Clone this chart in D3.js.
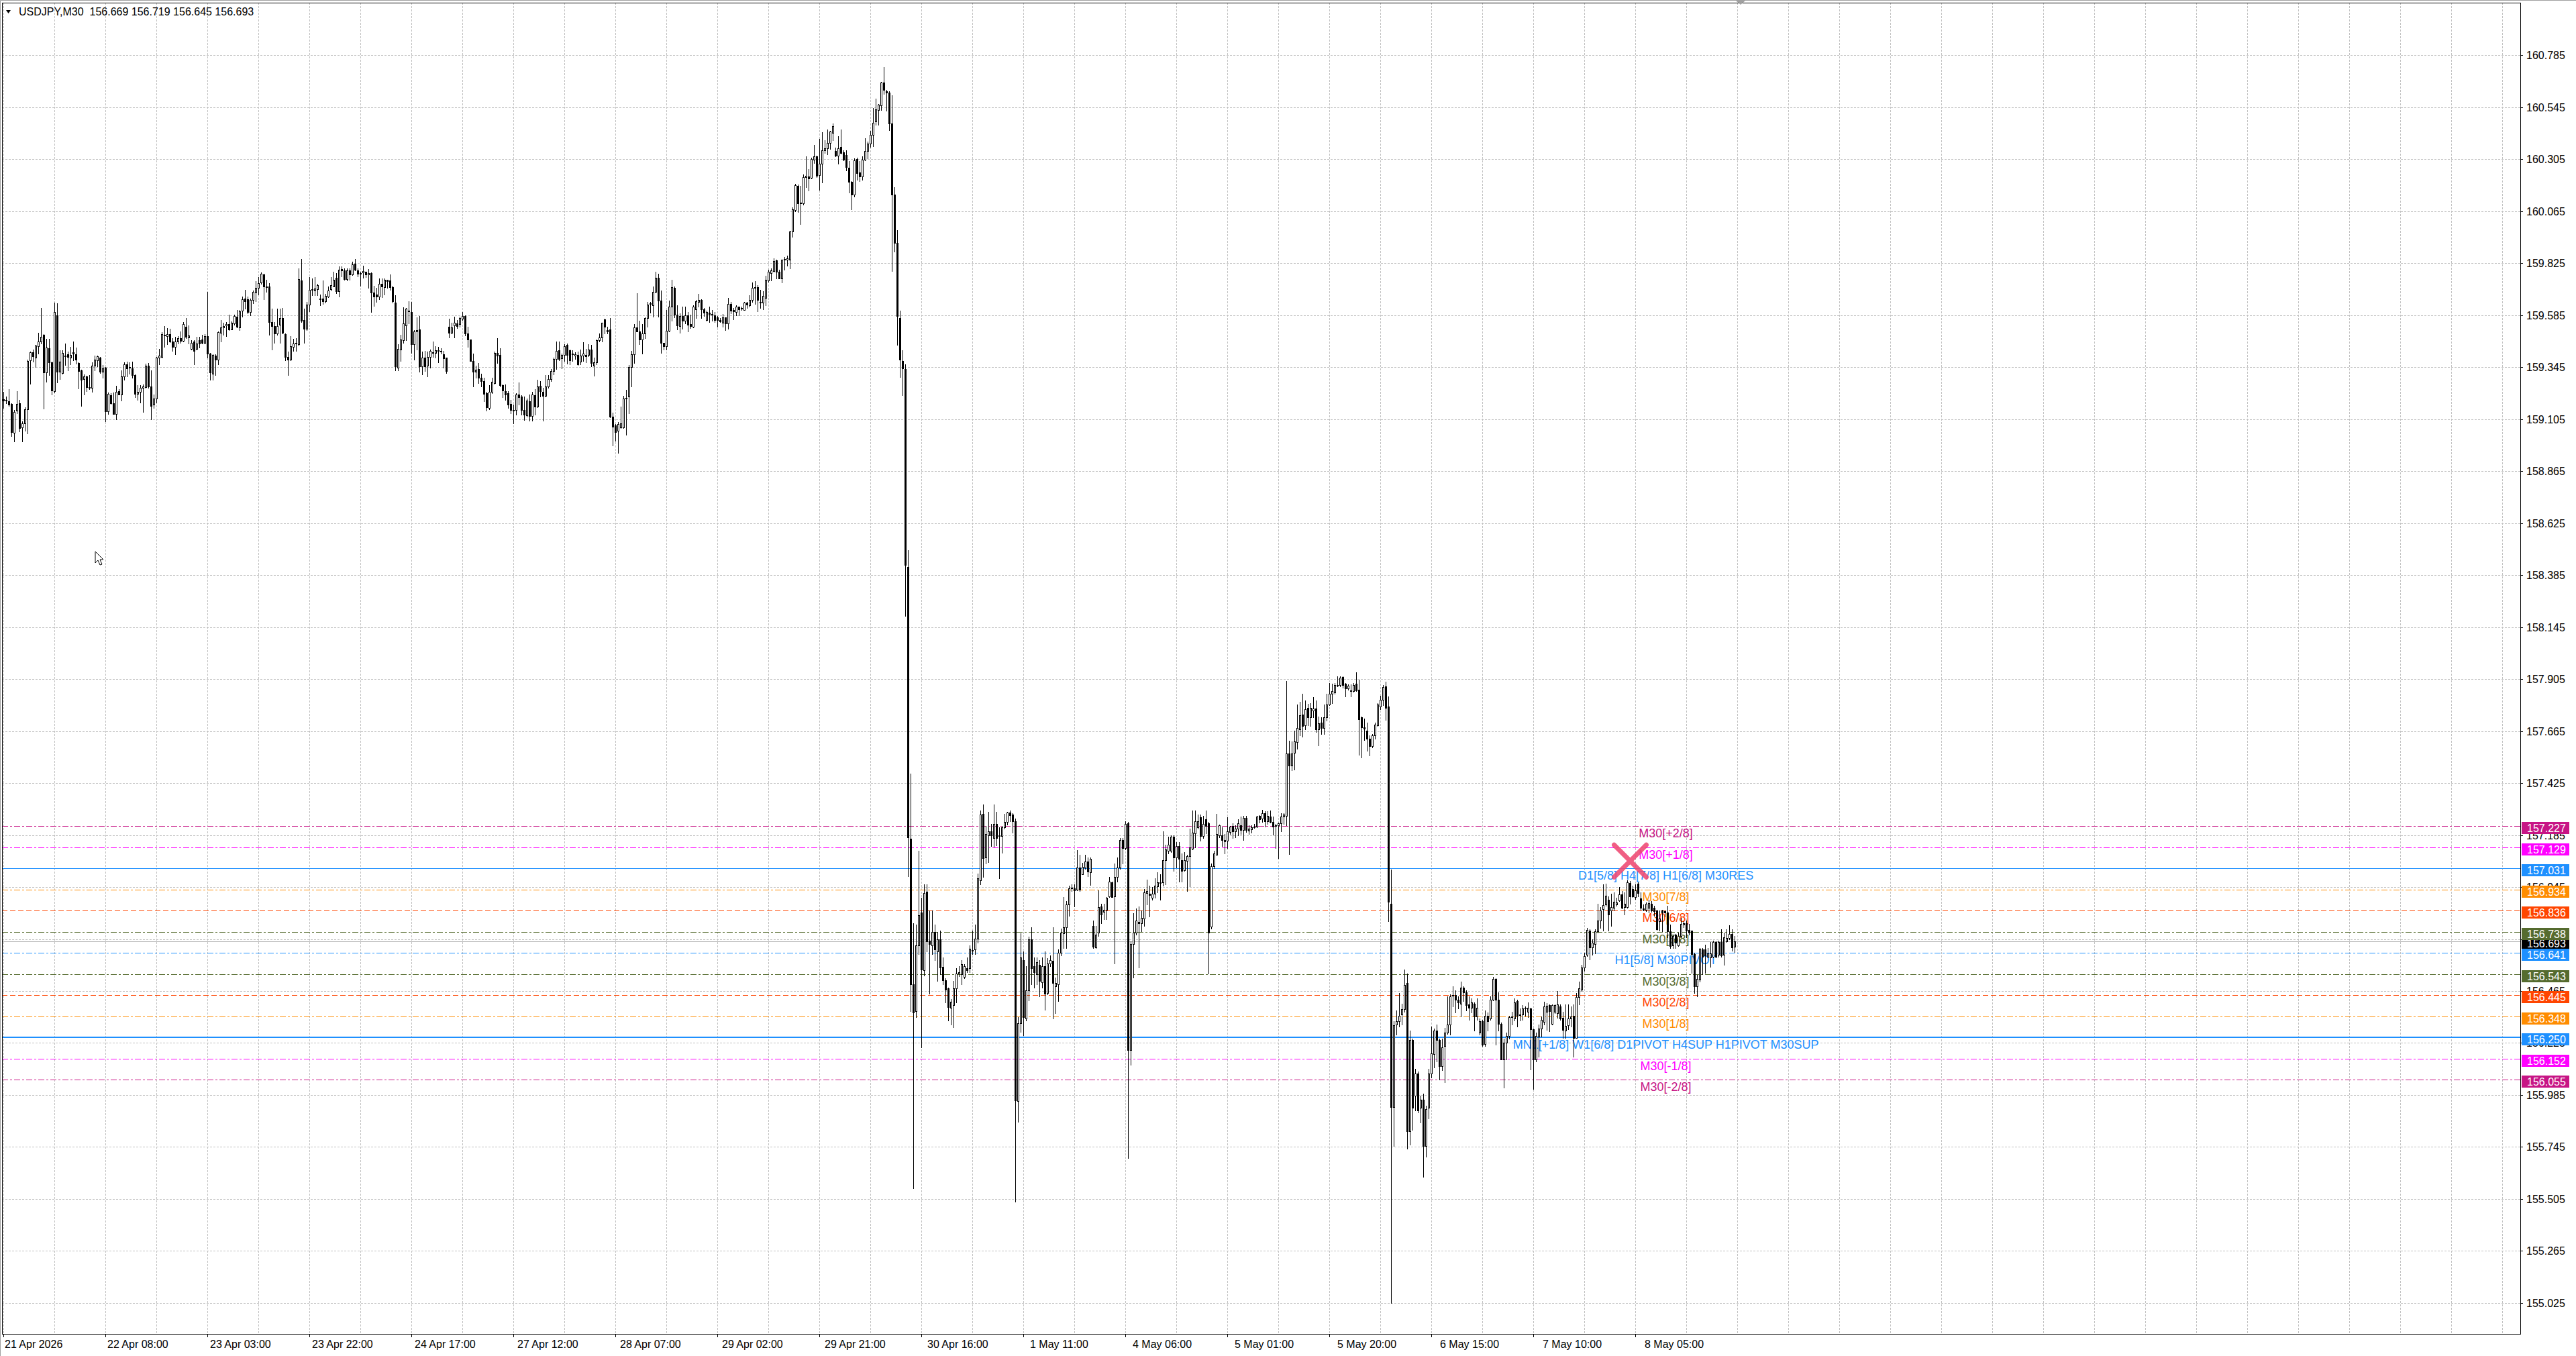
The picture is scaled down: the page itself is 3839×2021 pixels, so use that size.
<!DOCTYPE html>
<html><head><meta charset="utf-8">
<script src="https://cdn.jsdelivr.net/npm/d3@7"></script>
<style>html,body{margin:0;padding:0;background:#fff;overflow:hidden}</style>
</head><body>
<svg id="chart" width="3839" height="2021" xmlns="http://www.w3.org/2000/svg"></svg>
<script>
// ---------------- DATA ----------------
const symbolTitle = "USDJPY,M30";
const lastBarOHLC = [156.669, 156.719, 156.645, 156.693];
const bidPrice = 156.693;

const opens = [
159.196,159.190,159.187,159.174,159.042,159.143,159.177,159.067,159.086,159.151,
159.375,159.412,159.390,159.442,159.463,159.493,159.320,159.433,159.367,159.233,
159.583,159.323,159.318,159.398,159.403,159.390,159.413,159.405,159.364,159.329,
159.288,159.302,159.252,159.248,159.351,159.377,159.390,159.322,159.342,159.141,
159.215,159.179,159.128,159.235,159.219,159.301,159.357,159.344,159.340,159.309,
159.222,159.229,159.248,159.253,159.352,159.255,159.172,159.198,159.390,159.393,
159.495,159.489,159.498,159.463,159.437,159.463,159.478,159.465,159.532,159.482,
159.429,159.464,159.429,159.468,159.471,159.456,159.489,159.408,159.314,159.399,
159.378,159.503,159.529,159.536,159.544,159.520,159.546,159.576,159.529,159.606,
159.662,159.657,159.598,159.656,159.690,159.712,159.736,159.774,159.718,159.716,
159.552,159.533,159.500,159.539,159.572,159.497,159.393,159.380,159.437,159.452,
159.450,159.744,159.561,159.522,159.632,159.701,159.697,159.705,159.660,159.661,
159.650,159.671,159.703,159.718,159.757,159.695,159.796,159.792,159.751,159.790,
159.772,159.822,159.790,159.778,159.782,159.785,159.772,159.780,159.688,159.679,
159.671,159.728,159.715,159.747,159.744,159.715,159.642,159.343,159.426,159.470,
159.536,159.605,159.598,159.449,159.510,159.517,159.348,159.390,159.351,159.392,
159.414,159.410,159.421,159.418,159.404,159.387,159.532,159.504,159.536,159.547,
159.543,159.567,159.582,159.501,159.471,159.372,159.322,159.337,159.296,159.281,
159.224,159.156,159.231,159.272,159.411,159.400,159.263,159.235,159.223,159.174,
159.148,159.146,159.218,159.208,159.148,159.123,159.187,159.120,159.216,159.161,
159.257,159.231,159.213,159.255,159.289,159.325,159.383,159.424,159.385,159.400,
159.447,159.421,159.403,159.398,159.400,159.369,159.397,159.402,159.402,159.426,
159.352,159.366,159.468,159.481,159.564,159.515,159.517,159.116,159.076,159.050,
159.066,159.066,159.198,159.210,159.345,159.403,159.528,159.508,159.473,159.499,
159.572,159.636,159.629,159.692,159.757,159.653,159.456,159.442,159.513,159.623,
159.712,159.587,159.534,159.579,159.558,159.584,159.543,159.532,159.611,159.647,
159.656,159.611,159.561,159.597,159.590,159.585,159.573,159.562,159.549,159.573,
159.546,159.635,159.609,159.599,159.623,159.615,159.609,159.641,159.629,159.656,
159.712,159.714,159.647,159.643,159.664,159.745,159.780,159.789,159.836,159.786,
159.753,159.840,159.842,159.842,159.970,160.071,160.180,160.100,160.101,160.221,
160.226,160.218,160.301,160.316,160.231,160.283,160.346,160.354,160.381,160.425,
160.342,160.322,160.360,160.336,160.325,160.266,160.201,160.140,160.304,160.243,
160.225,160.301,160.343,160.375,160.417,160.480,160.532,160.553,160.657,160.618,
160.612,160.470,160.141,159.919,159.572,159.374,159.335,158.423,157.168,156.496,
156.371,156.676,156.828,156.560,156.924,156.698,156.676,156.737,156.648,156.703,
156.576,156.515,156.476,156.389,156.400,156.478,156.545,156.543,156.529,156.570,
156.570,156.655,156.656,156.708,156.975,157.283,157.080,157.185,157.202,157.170,
157.237,157.185,157.180,157.221,157.244,157.288,157.279,157.249,155.957,156.316,
156.607,156.338,156.468,156.703,156.579,156.543,156.587,156.504,156.579,156.457,
156.592,156.605,156.487,156.496,156.643,156.731,156.759,156.864,156.939,156.939,
156.932,157.035,157.005,157.035,157.063,157.013,156.765,156.667,156.733,156.855,
156.830,156.840,156.903,156.967,156.903,156.993,157.035,157.163,157.125,157.240,
156.194,156.682,156.733,156.785,156.778,156.798,156.917,156.913,156.894,156.913,
156.949,156.967,156.967,157.070,157.112,157.112,157.176,157.080,157.134,157.070,
157.022,157.065,157.086,157.121,157.193,157.221,157.266,157.180,157.258,157.240,
156.761,157.041,157.095,157.185,157.185,157.157,157.160,157.198,157.228,157.202,
157.215,157.230,157.208,157.263,157.205,157.211,157.222,157.225,157.272,157.261,
157.285,157.250,157.269,157.246,157.230,157.230,157.238,157.269,157.274,157.562,
157.506,157.564,157.615,157.674,157.741,157.692,157.772,157.728,157.761,157.768,
157.672,157.703,157.678,157.728,157.786,157.836,157.844,157.877,157.877,157.913,
157.882,157.862,157.851,157.849,157.882,157.857,157.730,157.681,157.667,157.628,
157.595,157.645,157.692,157.777,157.810,157.871,157.777,156.869,155.929,156.310,
156.325,156.356,156.381,156.501,155.818,156.238,155.981,156.084,155.925,155.962,
155.750,155.925,156.084,156.174,156.281,156.238,156.118,156.212,156.272,156.310,
156.443,156.445,156.426,156.407,156.482,156.460,156.403,156.388,156.407,156.347,
156.272,156.325,156.220,156.351,156.338,156.426,156.520,156.426,156.313,156.150,
156.225,156.257,156.343,156.338,156.418,156.356,156.356,156.385,156.370,156.385,
156.287,156.150,156.253,156.291,156.321,156.368,156.399,156.313,156.368,156.363,
156.394,156.340,156.282,156.306,156.337,156.350,156.249,156.437,156.471,156.574,
156.631,156.745,156.667,156.683,156.740,156.791,156.843,156.863,156.887,156.836,
156.850,156.864,156.884,156.912,156.853,156.853,156.964,156.936,156.900,156.962,
156.891,156.846,156.840,156.848,156.867,156.848,156.838,156.786,156.836,156.833,
156.827,156.740,156.675,156.724,156.675,156.719,156.773,156.778,156.747,156.743,
156.636,156.487,156.518,156.657,156.657,156.623,156.621,156.623,156.690,156.631,
156.691,156.631,156.693,156.709,156.729,156.669
];
const highs = [
159.229,159.210,159.242,159.177,159.146,159.234,159.193,159.094,159.158,159.380,
159.416,159.427,159.448,159.502,159.617,159.497,159.474,159.474,159.370,159.643,
159.640,159.421,159.421,159.452,159.416,159.437,159.462,159.435,159.366,159.333,
159.312,159.305,159.309,159.366,159.399,159.399,159.393,159.354,159.346,159.228,
159.223,159.227,159.257,159.242,159.331,159.366,159.370,159.368,159.370,159.310,
159.260,159.263,159.264,159.362,159.364,159.330,159.219,159.393,159.429,159.507,
159.533,159.524,159.522,159.479,159.484,159.487,159.510,159.552,159.572,159.536,
159.468,159.470,159.486,159.484,159.494,159.496,159.692,159.410,159.403,159.403,
159.509,159.563,159.549,159.554,159.588,159.557,159.588,159.609,159.609,159.670,
159.700,159.671,159.661,159.699,159.741,159.760,159.782,159.775,159.749,159.733,
159.614,159.552,159.616,159.614,159.619,159.500,159.416,159.487,159.474,159.479,
159.801,159.845,159.614,159.645,159.760,159.754,159.760,159.730,159.681,159.744,
159.684,159.718,159.760,159.785,159.780,159.811,159.809,159.801,159.801,159.801,
159.832,159.844,159.801,159.785,159.813,159.785,159.796,159.782,159.720,159.712,
159.754,159.754,159.754,159.749,159.772,159.720,159.676,159.449,159.494,159.622,
159.619,159.650,159.645,159.515,159.574,159.579,159.416,159.418,159.416,159.426,
159.463,159.442,159.437,159.432,159.418,159.390,159.569,159.551,159.577,159.562,
159.577,159.598,159.584,159.530,159.473,159.406,159.352,159.364,159.314,159.296,
159.231,159.260,159.296,159.416,159.478,159.432,159.265,159.265,159.234,159.192,
159.172,159.224,159.273,159.216,159.208,159.198,159.218,159.231,159.244,159.286,
159.281,159.250,159.307,159.307,159.335,159.387,159.463,159.463,159.406,159.449,
159.452,159.426,159.421,159.412,159.416,159.426,159.460,159.428,159.449,159.447,
159.390,159.473,159.499,159.551,159.567,159.530,159.570,159.135,159.083,159.091,
159.161,159.213,159.239,159.354,159.418,159.543,159.686,159.560,159.543,159.574,
159.645,159.645,159.716,159.785,159.775,159.699,159.458,159.608,159.653,159.747,
159.718,159.629,159.593,159.623,159.623,159.599,159.587,159.629,159.655,159.682,
159.658,159.617,159.605,159.623,159.607,159.599,159.581,159.570,159.591,159.575,
159.664,159.647,159.617,159.631,159.623,159.623,159.647,159.647,159.676,159.735,
159.741,159.724,159.702,159.694,159.765,159.795,159.801,159.846,159.842,159.795,
159.842,159.854,159.860,159.975,160.083,160.192,160.188,160.180,160.235,160.316,
160.259,160.310,160.369,160.322,160.399,160.429,160.393,160.440,160.435,160.468,
160.357,160.411,160.440,160.346,160.346,160.295,160.203,160.307,160.310,160.295,
160.316,160.401,160.387,160.435,160.541,160.583,160.559,160.660,160.728,160.624,
160.618,160.598,160.174,159.978,159.606,159.421,159.358,158.500,157.469,156.778,
156.772,157.112,156.897,156.958,156.958,156.836,156.836,156.772,156.737,156.745,
156.620,156.524,156.482,156.427,156.510,156.570,156.579,156.606,156.590,156.620,
156.676,156.745,156.772,157.007,157.298,157.326,157.228,157.292,157.237,157.326,
157.292,157.221,157.228,157.283,157.292,157.298,157.285,157.260,156.344,156.731,
156.648,156.579,156.717,156.758,156.620,156.620,156.606,156.620,156.648,156.618,
156.630,156.759,156.528,156.656,156.753,156.900,156.881,156.952,156.958,156.958,
157.116,157.093,157.057,157.093,157.080,157.080,156.791,156.765,156.928,156.868,
156.868,156.900,156.990,156.971,157.054,157.080,157.170,157.170,157.249,157.246,
156.695,156.823,156.846,156.855,156.836,156.936,156.980,156.952,156.945,156.984,
157.013,157.003,157.202,157.141,157.176,157.185,157.183,157.151,157.154,157.099,
157.106,157.095,157.215,157.298,157.298,157.279,157.279,157.273,157.298,157.246,
157.054,157.112,157.283,157.234,157.221,157.189,157.266,157.228,157.240,157.230,
157.257,157.269,157.272,157.274,157.230,157.230,157.235,157.274,157.276,157.302,
157.296,157.296,157.298,157.269,157.235,157.241,157.285,157.287,157.896,157.619,
157.617,157.667,157.788,157.799,157.836,157.805,157.792,157.794,157.822,157.805,
157.733,157.730,157.788,157.838,157.888,157.882,157.885,157.918,157.916,157.916,
157.888,157.880,157.880,157.885,157.935,157.902,157.733,157.722,157.705,157.645,
157.650,157.705,157.794,157.827,157.877,157.893,157.825,157.026,156.325,156.375,
156.456,156.407,156.563,156.544,156.281,156.244,156.107,156.094,155.981,155.991,
155.934,156.107,156.300,156.291,156.310,156.244,156.244,156.295,156.441,156.450,
156.488,156.469,156.441,156.507,156.488,156.469,156.441,156.431,156.413,156.431,
156.338,156.332,156.375,156.366,156.441,156.531,156.525,156.460,156.319,156.244,
156.272,156.351,156.370,156.431,156.426,156.385,156.400,156.394,156.413,156.388,
156.291,156.272,156.310,156.347,156.416,156.409,156.404,156.404,156.404,156.466,
156.404,156.368,156.404,156.404,156.394,156.404,156.456,156.507,156.585,156.641,
156.755,156.750,156.703,156.750,156.867,156.853,156.956,156.962,156.902,156.915,
156.920,156.894,156.946,156.925,156.920,156.977,156.972,156.951,156.956,156.967,
156.920,156.863,156.874,156.887,156.879,156.858,156.840,156.836,156.840,156.838,
156.858,156.771,156.724,156.729,156.734,156.802,156.786,156.791,156.776,156.745,
156.642,156.538,156.664,156.662,156.678,156.662,156.691,156.698,156.695,156.698,
156.750,156.734,156.750,156.768,156.750,156.719
];
const lows = [
159.156,159.177,159.164,159.026,159.002,159.130,159.047,159.000,159.050,159.037,
159.269,159.370,159.344,159.408,159.453,159.153,159.276,159.309,159.217,159.227,
159.273,159.288,159.314,159.354,159.331,159.359,159.375,159.361,159.247,159.164,
159.219,159.234,159.243,159.229,159.331,159.347,159.317,159.294,159.094,159.127,
159.175,159.127,159.104,159.217,159.190,159.286,159.302,159.315,159.294,159.205,
159.193,159.180,159.138,159.250,159.250,159.102,159.156,159.182,159.356,159.387,
159.437,159.450,159.460,159.418,159.403,159.455,159.458,159.463,159.479,159.453,
159.427,159.356,159.427,159.435,159.453,159.453,159.390,159.286,159.286,159.307,
159.356,159.463,159.494,159.489,159.515,159.517,159.541,159.529,159.515,159.577,
159.614,159.593,159.583,159.640,159.650,159.681,159.728,159.658,159.692,159.494,
159.427,159.458,159.494,159.458,159.500,159.377,159.307,159.375,159.418,159.418,
159.445,159.552,159.458,159.515,159.601,159.676,159.676,159.676,159.630,159.635,
159.643,159.666,159.697,159.716,159.686,159.671,159.764,159.747,159.744,159.747,
159.768,159.790,159.764,159.720,159.757,159.759,159.712,159.598,159.626,159.647,
159.657,159.666,159.681,159.712,159.702,159.643,159.331,159.331,159.372,159.458,
159.470,159.546,159.411,159.378,159.426,159.322,159.312,159.328,159.302,159.343,
159.392,159.390,159.366,159.406,159.343,159.317,159.481,159.499,159.480,159.525,
159.530,159.562,159.491,159.439,159.374,159.255,159.296,159.270,159.255,159.187,
159.143,159.151,159.224,159.268,159.364,159.255,159.206,159.192,159.156,159.130,
159.085,159.125,159.172,159.125,159.099,159.117,159.096,159.096,159.125,159.158,
159.210,159.096,159.208,159.250,159.279,159.312,159.336,159.377,159.338,159.374,
159.362,159.359,159.374,159.382,159.354,159.359,159.374,159.366,159.395,159.348,
159.305,159.359,159.463,159.463,159.499,159.499,159.114,158.984,159.005,158.948,
159.063,159.063,159.031,159.130,159.255,159.364,159.510,159.449,159.408,159.478,
159.530,159.595,159.577,159.688,159.577,159.411,159.426,159.426,159.510,159.558,
159.575,159.520,159.504,159.522,159.546,159.508,159.524,159.528,159.570,159.623,
159.570,159.581,159.558,159.552,159.558,159.552,159.532,159.552,159.532,159.516,
159.522,159.593,159.566,159.584,159.584,159.609,159.608,159.619,159.623,159.647,
159.635,159.601,159.617,159.611,159.631,159.738,159.745,159.785,159.753,159.753,
159.735,159.795,159.812,159.800,159.946,160.064,160.061,160.006,160.093,160.174,
160.160,160.215,160.286,160.221,160.162,160.198,160.334,160.328,160.352,160.393,
160.316,160.283,160.330,160.298,160.251,160.150,160.073,160.132,160.209,160.203,
160.209,160.298,160.307,160.361,160.363,160.464,160.464,160.532,160.606,160.529,
160.437,159.789,159.878,159.446,159.299,159.216,158.196,156.994,156.371,155.556,
156.344,156.634,156.206,156.537,156.648,156.454,156.634,156.606,156.510,156.543,
156.496,156.413,156.330,156.311,156.297,156.413,156.532,156.496,156.524,156.551,
156.551,156.634,156.634,156.689,156.958,156.990,157.054,157.061,157.134,157.131,
157.138,156.984,157.103,157.215,157.234,157.249,157.196,155.494,155.860,156.275,
156.261,156.330,156.421,156.496,156.482,156.496,156.441,156.482,156.377,156.451,
156.580,156.338,156.364,156.419,156.630,156.663,156.663,156.813,156.926,156.855,
156.928,156.926,157.003,157.029,156.996,156.954,156.663,156.663,156.720,156.778,
156.795,156.795,156.900,156.898,156.592,156.971,157.029,157.054,157.118,155.693,
156.123,156.528,156.725,156.573,156.740,156.765,156.864,156.810,156.887,156.894,
156.919,156.887,156.952,156.958,157.099,157.106,157.018,157.035,156.971,156.971,
157.018,156.926,156.949,157.118,157.129,157.215,157.160,157.170,157.193,156.547,
156.752,157.031,157.093,157.173,157.134,157.099,157.125,157.189,157.170,157.175,
157.183,157.191,157.163,157.199,157.191,157.197,157.216,157.221,157.241,157.246,
157.224,157.235,157.241,157.188,157.125,157.077,157.202,157.235,157.230,157.097,
157.484,157.486,157.584,157.645,157.639,157.674,157.692,157.689,157.728,157.661,
157.600,157.652,157.652,157.714,157.785,157.794,157.838,157.871,157.871,157.866,
157.825,157.855,157.825,157.847,157.849,157.556,157.542,157.622,157.575,157.551,
157.589,157.628,157.689,157.766,157.783,157.716,156.787,155.024,155.750,156.263,
156.300,156.310,156.370,155.737,155.756,155.825,155.915,155.906,155.859,155.606,
155.700,155.878,156.066,156.113,156.141,156.056,156.099,156.043,156.268,156.263,
156.394,156.366,156.385,156.347,156.418,156.375,156.332,156.366,156.281,156.332,
156.263,156.212,156.212,156.281,156.332,156.422,156.216,156.281,156.150,156.019,
156.150,156.244,156.310,156.330,156.300,156.330,156.332,156.351,156.343,156.103,
156.013,156.141,156.160,156.253,156.311,156.285,156.280,156.310,156.363,156.342,
156.332,156.249,156.249,156.290,156.301,156.161,156.247,156.404,156.466,156.559,
156.626,156.611,156.633,156.639,156.734,156.755,156.743,156.858,156.743,156.765,
156.836,156.858,156.879,156.846,156.817,156.850,156.869,156.900,156.889,156.902,
156.840,156.836,156.833,156.827,156.830,156.812,156.747,156.745,156.740,156.810,
156.714,156.662,156.662,156.662,156.673,156.714,156.760,156.714,156.724,156.549,
156.456,156.440,156.507,156.543,156.549,156.620,156.575,156.620,156.620,156.623,
156.623,156.585,156.691,156.703,156.652,156.645
];
const closes = [
159.190,159.194,159.172,159.044,159.138,159.175,159.063,159.086,159.151,159.373,
159.412,159.396,159.444,159.463,159.486,159.320,159.435,159.367,159.236,159.600,
159.323,159.370,159.409,159.396,159.393,159.401,159.406,159.378,159.328,159.286,
159.302,159.252,159.248,159.351,159.379,159.394,159.322,159.340,159.141,159.220,
159.177,159.128,159.232,159.219,159.301,159.359,159.340,159.341,159.309,159.222,
159.232,159.249,159.254,159.352,159.255,159.167,159.198,159.390,159.398,159.497,
159.491,159.497,159.463,159.437,159.463,159.478,159.465,159.544,159.484,159.491,
159.457,159.418,159.455,159.455,159.456,159.489,159.406,159.321,159.400,159.378,
159.505,159.529,159.535,159.544,159.520,159.548,159.581,159.531,159.603,159.657,
159.650,159.598,159.656,159.692,159.712,159.733,159.775,159.716,159.715,159.552,
159.533,159.500,159.533,159.572,159.503,159.392,159.380,159.441,159.452,159.456,
159.751,159.559,159.523,159.632,159.702,159.703,159.708,159.723,159.657,159.650,
159.673,159.697,159.723,159.749,159.695,159.794,159.790,159.751,159.790,159.772,
159.820,159.794,159.777,159.775,159.788,159.772,159.778,159.690,159.671,159.671,
159.728,159.718,159.749,159.743,159.715,159.648,159.348,159.428,159.471,159.546,
159.614,159.601,159.449,159.510,159.515,159.348,159.388,159.348,159.392,159.418,
159.410,159.421,159.418,159.415,159.385,159.325,159.504,159.528,159.551,159.533,
159.570,159.582,159.499,159.473,159.374,159.322,159.333,159.296,159.281,159.220,
159.158,159.231,159.276,159.411,159.397,159.260,159.237,159.218,159.172,159.146,
159.144,159.218,159.206,159.146,159.125,159.189,159.120,159.218,159.161,159.255,
159.234,159.213,159.255,159.289,159.325,159.383,159.418,159.383,159.400,159.442,
159.400,159.377,159.406,159.404,159.357,159.397,159.406,159.395,159.426,159.364,
159.366,159.468,159.481,159.549,159.532,159.508,159.116,159.068,159.044,159.083,
159.086,159.198,159.203,159.345,159.404,159.528,159.510,159.473,159.499,159.572,
159.634,159.640,159.692,159.757,159.653,159.456,159.442,159.513,159.624,159.714,
159.587,159.536,159.579,159.558,159.584,159.540,159.534,159.623,159.650,159.656,
159.611,159.597,159.599,159.590,159.586,159.561,159.561,159.555,159.573,159.546,
159.635,159.605,159.601,159.623,159.611,159.617,159.641,159.632,159.656,159.712,
159.714,159.655,159.643,159.673,159.747,159.785,159.791,159.833,159.785,159.755,
159.840,159.845,159.848,159.972,160.073,160.183,160.100,160.103,160.221,160.228,
160.215,160.304,160.316,160.227,160.283,160.346,160.354,160.381,160.431,160.458,
160.322,160.356,160.334,160.302,160.269,160.201,160.142,160.298,160.241,160.225,
160.301,160.343,160.375,160.417,160.472,160.535,160.555,160.657,160.624,160.612,
160.470,160.141,159.919,159.581,159.378,159.338,158.431,157.173,156.496,156.366,
156.676,156.814,156.565,156.916,156.695,156.681,156.737,156.656,156.703,156.573,
156.515,156.470,156.392,156.416,156.478,156.547,156.551,156.590,156.579,156.560,
156.660,156.652,156.708,156.984,157.279,157.077,157.189,157.202,157.183,157.237,
157.170,157.180,157.221,157.244,157.288,157.275,157.249,155.959,156.316,156.620,
156.344,156.468,156.703,156.570,156.551,156.598,156.510,156.579,156.454,156.592,
156.607,156.502,156.502,156.643,156.733,156.759,156.864,156.939,156.942,156.928,
157.035,156.932,157.039,157.063,157.016,157.076,156.669,156.724,156.853,156.817,
156.840,156.894,156.971,156.900,156.993,157.035,157.163,157.125,157.237,156.194,
156.682,156.733,156.791,156.778,156.804,156.920,156.926,156.907,156.913,156.952,
156.967,156.964,157.070,157.118,157.141,157.176,157.080,157.134,157.074,157.018,
157.070,157.086,157.129,157.195,157.247,157.247,157.180,157.237,157.227,156.733,
157.041,157.099,157.189,157.230,157.163,157.163,157.202,157.224,157.202,157.215,
157.240,157.208,157.263,157.208,157.213,157.222,157.225,157.269,157.258,157.285,
157.250,157.272,157.246,157.224,157.227,157.238,157.269,157.280,157.562,157.506,
157.562,157.617,157.678,157.739,157.689,157.766,157.728,157.772,157.770,157.672,
157.702,157.678,157.728,157.786,157.836,157.849,157.877,157.875,157.910,157.877,
157.862,157.873,157.848,157.877,157.852,157.719,157.681,157.677,157.628,157.595,
157.645,157.694,157.788,157.810,157.869,157.772,156.878,155.929,156.306,156.325,
156.351,156.381,156.493,155.818,156.238,155.925,156.084,155.915,155.962,155.750,
155.919,156.084,156.178,156.281,156.238,156.118,156.206,156.272,156.310,156.441,
156.445,156.426,156.413,156.482,156.460,156.400,156.388,156.413,156.347,156.388,
156.325,156.216,156.351,156.325,156.426,156.520,156.426,156.313,156.150,156.225,
156.257,156.343,156.347,156.413,156.351,156.353,156.385,156.388,156.388,156.287,
156.150,156.257,156.291,156.332,156.394,156.396,156.373,156.399,156.399,156.402,
156.337,156.285,156.303,156.337,156.347,156.249,156.437,156.476,156.574,156.626,
156.747,156.667,156.688,156.740,156.791,156.838,156.860,156.905,156.819,156.853,
156.877,156.874,156.912,156.848,156.869,156.967,156.902,156.902,156.931,156.918,
156.848,156.840,156.869,156.871,156.836,156.833,156.750,156.801,156.827,156.827,
156.740,156.673,156.719,156.688,156.719,156.776,156.778,156.745,156.734,156.636,
156.487,156.520,156.660,156.623,156.629,156.639,156.639,156.690,156.623,156.691,
156.629,156.714,156.709,156.729,156.667,156.693
];

const timeLabels = ["21 Apr 2026","22 Apr 08:00","23 Apr 03:00","23 Apr 22:00","24 Apr 17:00",
  "27 Apr 12:00","28 Apr 07:00","29 Apr 02:00","29 Apr 21:00","30 Apr 16:00","1 May 11:00",
  "4 May 06:00","5 May 01:00","5 May 20:00","6 May 15:00","7 May 10:00","8 May 05:00"];
const barsPerTimeLabel = 38;
const barsPerGridLine = 19;

const priceTicks = [155.025,155.265,155.505,155.745,155.985,156.225,156.465,156.705,156.945,
  157.185,157.425,157.665,157.905,158.145,158.385,158.625,158.865,159.105,159.345,159.585,
  159.825,160.065,160.305,160.545,160.785];

const levelPrices = [157.227,157.129,157.031,156.934,156.836,156.738,156.641,156.543,156.445,156.348,156.250,156.152,156.055];
const levelNames = ["M30[+2/8]","M30[+1/8]","D1[5/8] H4[7/8] H1[6/8] M30RES","M30[7/8]","M30[6/8]","M30[5/8]",
  "H1[5/8] M30PIVOT","M30[3/8]","M30[2/8]","M30[1/8]","MN1[+1/8] W1[6/8] D1PIVOT H4SUP H1PIVOT M30SUP","M30[-1/8]","M30[-2/8]"];
const levelKinds = ["p2","p1","res","o","r","g","piv","g","r","o","sup","p1","p2"];

const markBar = 606, markPrice = 157.065;       // the pink cross marker
const levelLabelBar = 619.4;                     // where the level captions are centred

// ---------------- STYLE ----------------
const kindStyle = {
  p2:  {c:"#C71585", dash:"9,3,3,3", w:1},
  p1:  {c:"#FF00FF", dash:"9,3,3,3", w:1},
  res: {c:"#1E90FF", dash:null, w:1},
  o:   {c:"#FF8C00", dash:"9,3,3,3", w:1},
  r:   {c:"#FF4500", dash:"8,4", w:1},
  g:   {c:"#556B2F", dash:"9,3,3,3", w:1},
  piv: {c:"#1E90FF", dash:"9,3,3,3", w:1},
  sup: {c:"#1E90FF", dash:null, w:2}
};
const FONT = "'Liberation Sans', Arial, sans-serif";
const plotL = 3, plotT = 4, plotR = 3756, plotB = 1988;
const timeLabelDrift = 0.78;   // px per label: the terminal's captions creep right of their ticks

// ---------------- SCALES ----------------
const xs = d3.scaleLinear().domain([0, 1]).range([5, 9]);           // 4 px per bar
const ys = d3.scaleLinear().domain([154.8825, 161.0267]).range([plotB, plotT]);

const svg = d3.select("#chart");
svg.append("rect").attr("width",3839).attr("height",2021).attr("fill","#fff");

// outer light frame
svg.append("path").attr("d","M0.5,2021 V0.5 H3839").attr("stroke","#a0a0a0").attr("fill","none");

// grid
const grid = svg.append("g").attr("shape-rendering","crispEdges")
  .attr("stroke","#c0c0c0").attr("stroke-dasharray","3,2").attr("stroke-width",1);
grid.selectAll("line.h").data(priceTicks).join("line").attr("class","h")
  .attr("x1",plotL).attr("x2",plotR)
  .attr("y1",d=>Math.round(ys(d))+0.5).attr("y2",d=>Math.round(ys(d))+0.5);
const vGridBars = d3.range(0, 1000, barsPerGridLine).filter(b => xs(b) < plotR);
grid.selectAll("line.v").data(vGridBars).join("line").attr("class","v")
  .attr("x1",d=>Math.round(xs(d))+0.5).attr("x2",d=>Math.round(xs(d))+0.5)
  .attr("y1",plotT).attr("y2",plotB);

// bid line
svg.append("line").attr("shape-rendering","crispEdges")
  .attr("x1",plotL).attr("x2",plotR)
  .attr("y1",Math.round(ys(bidPrice))+0.5).attr("y2",Math.round(ys(bidPrice))+0.5)
  .attr("stroke","#b4b4b4");

// level lines
const lv = svg.append("g").attr("shape-rendering","crispEdges");
levelPrices.forEach((p,i)=>{
  const s = kindStyle[levelKinds[i]];
  const y = Math.round(ys(p)) + (s.w===2 ? 0 : 0.5);
  lv.append("line").attr("x1",plotL).attr("x2",plotR).attr("y1",y).attr("y2",y)
    .attr("stroke",s.c).attr("stroke-width",s.w)
    .attr("stroke-dasharray",s.dash);
});

// level captions
const capX = xs(levelLabelBar);
levelPrices.forEach((p,i)=>{
  const s = kindStyle[levelKinds[i]];
  svg.append("text").attr("x",capX).attr("y",Math.round(ys(p))+17)
    .attr("text-anchor","middle").attr("font-family",FONT).attr("font-size",18)
    .attr("fill",s.c).text(levelNames[i]);
});

// candles
const idx = d3.range(opens.length);
const cg = svg.append("g").attr("shape-rendering","crispEdges");
cg.selectAll("rect.wick").data(idx).join("rect").attr("class","wick")
  .attr("x",i=>Math.round(xs(i)))
  .attr("y",i=>Math.round(ys(Math.max(highs[i],opens[i],closes[i]))))
  .attr("width",1)
  .attr("height",i=>Math.round(ys(Math.min(lows[i],opens[i],closes[i])))-Math.round(ys(Math.max(highs[i],opens[i],closes[i])))+1)
  .attr("fill","#000");
const bodyTop = i=>Math.round(ys(Math.max(opens[i],closes[i])));
const bodyBot = i=>Math.round(ys(Math.min(opens[i],closes[i])));
cg.selectAll("rect.body").data(idx).join("rect").attr("class","body")
  .attr("x",i=>Math.round(xs(i))-1).attr("y",bodyTop).attr("width",3)
  .attr("height",i=>bodyBot(i)-bodyTop(i)+1).attr("fill","#000");
cg.selectAll("rect.hollow").data(idx.filter(i=>closes[i]>opens[i] && bodyBot(i)-bodyTop(i)>=2))
  .join("rect").attr("class","hollow")
  .attr("x",i=>Math.round(xs(i))).attr("y",i=>bodyTop(i)+1).attr("width",1)
  .attr("height",i=>bodyBot(i)-bodyTop(i)-1).attr("fill","#fff");

// cross marker
const mx = xs(markBar)+0.5, my = ys(markPrice), mr = 24;
const xm = svg.append("g").attr("stroke","#EE4872").attr("stroke-width",7)
  .attr("stroke-linecap","round").attr("opacity",0.88);
xm.append("line").attr("x1",mx-mr).attr("y1",my-mr).attr("x2",mx+mr).attr("y2",my+mr);
xm.append("line").attr("x1",mx+mr).attr("y1",my-mr).attr("x2",mx-mr).attr("y2",my+mr);

// axes frame
const ax = svg.append("g").attr("shape-rendering","crispEdges");
ax.append("path").attr("d",`M${plotL+0.5},${plotB+0.5} V${plotT+0.5} H${plotR+0.5} V${plotB+0.5} H${plotL+0.5}`)
  .attr("stroke","#000").attr("fill","none");

// price axis ticks + labels (a label fully covered by the bid / level boxes is not drawn)
const boxPrices = levelPrices.concat([bidPrice]);
const visibleTicks = priceTicks.filter(p => !boxPrices.some(b => Math.abs(ys(b)-ys(p)) < 6) ||
  !(boxPrices.filter(b => Math.abs(ys(b)-ys(p)) < 16).length >= 2));
ax.selectAll("line.pt").data(priceTicks).join("line").attr("class","pt")
  .attr("x1",plotR).attr("x2",plotR+4)
  .attr("y1",d=>Math.round(ys(d))+0.5).attr("y2",d=>Math.round(ys(d))+0.5).attr("stroke","#000");
svg.append("g").selectAll("text").data(visibleTicks).join("text")
  .attr("x",plotR+9).attr("y",d=>Math.round(ys(d))+6)
  .attr("font-family",FONT).attr("font-size",16).attr("fill","#000")
  .text(d=>d.toFixed(3));

// bid label
const by = Math.round(ys(bidPrice));
svg.append("rect").attr("x",plotR+2).attr("y",by-6).attr("width",71).attr("height",18).attr("fill","#000");
svg.append("text").attr("x",plotR+10).attr("y",by+9).attr("font-family",FONT).attr("font-size",16)
  .attr("fill","#fff").text(bidPrice.toFixed(3));

// level labels on axis
levelPrices.forEach((p,i)=>{
  const s = kindStyle[levelKinds[i]];
  const y = Math.round(ys(p));
  svg.append("rect").attr("x",plotR+2).attr("y",y-6).attr("width",71).attr("height",18).attr("fill",s.c);
  svg.append("text").attr("x",plotR+10).attr("y",y+9).attr("font-family",FONT).attr("font-size",16)
    .attr("fill","#fff").text(p.toFixed(3));
});

// time axis
const tBars = timeLabels.map((t,k)=>k*barsPerTimeLabel);
ax.selectAll("line.tt").data(tBars).join("line").attr("class","tt")
  .attr("x1",d=>Math.round(xs(d))+0.5).attr("x2",d=>Math.round(xs(d))+0.5)
  .attr("y1",plotB).attr("y2",plotB+5).attr("stroke","#000");
svg.append("g").selectAll("text").data(timeLabels).join("text")
  .attr("x",(d,k)=>Math.round(xs(tBars[k]) + 2 + k*timeLabelDrift)).attr("y",plotB+21)
  .attr("font-family",FONT).attr("font-size",16).attr("fill","#000").text(d=>d);

// header
svg.append("path").attr("d","M9,15 L16,15 L12.5,20 Z").attr("fill","#000");
svg.append("text").attr("x",28).attr("y",23).attr("font-family",FONT).attr("font-size",16)
  .attr("fill","#000").attr("xml:space","preserve")
  .text(symbolTitle + "  " + lastBarOHLC.map(v=>v.toFixed(3)).join(" "));

// chart shift marker
svg.append("path").attr("d",`M${xs(646)-2},1 L${xs(646)+12},1 L${xs(646)+5},7 Z`).attr("fill","#a0a0a0");

// mouse pointer seen in the picture
svg.append("path").attr("transform","translate(142,822)")
  .attr("d","M0,0 L0,17 L4,13 L7,20 L10,19 L7,12 L12,12 Z")
  .attr("fill","#fff").attr("stroke","#000").attr("stroke-width",1);
</script>
</body></html>
